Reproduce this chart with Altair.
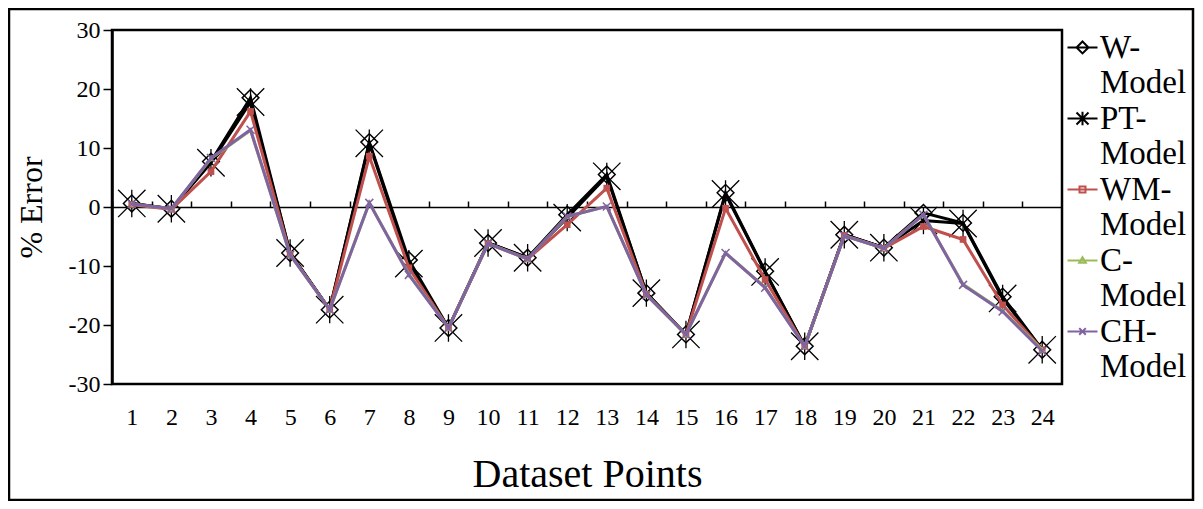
import altair as alt
import pandas as pd

points = list(range(1, 25))
series_names = ["W-Model", "PT-Model", "WM-Model", "C-Model", "CH-Model"]
w_model = [0.6, -0.3, 7.7, 18.5, -7.8, -17.4, 11.0, -9.0, -20.5, -6.1, -8.6, -1.3,
           5.5, -14.6, -21.6, 2.4, -10.9, -23.6, -4.7, -6.9, -1.0, -2.7, -15.2, -24.2]
pt_model = [0.6, -0.3, 7.5, 17.8, -7.8, -17.4, 10.8, -9.6, -20.5, -6.1, -8.6, -1.8,
            5.2, -14.6, -21.6, 2.2, -11.0, -23.6, -4.7, -6.9, -2.3, -2.8, -15.5, -24.2]
wm_model = [0.4, -0.4, 6.0, 16.2, -8.0, -17.4, 8.6, -10.3, -20.5, -6.2, -8.8, -3.0,
            3.2, -14.8, -21.6, -0.2, -12.3, -23.6, -4.8, -7.0, -3.3, -5.5, -16.6, -24.2]
c_model = [0.5, -0.3, 8.2, 13.0, -8.1, -17.4, 0.7, -11.4, -20.5, -6.2, -8.8, -1.6,
           0.1, -14.9, -21.6, -7.8, -13.6, -23.6, -4.9, -7.0, -1.3, -13.1, -17.6, -24.2]
ch_model = [0.5, -0.3, 8.3, 13.1, -8.1, -17.4, 0.7, -11.5, -20.5, -6.2, -8.8, -1.6,
            0.1, -14.9, -21.6, -7.8, -13.7, -23.6, -4.9, -7.0, -1.3, -13.2, -17.7, -24.4]
y_ticks = [-30, -20, -10, 0, 10, 20, 30]

colors = ["#000000", "#000000", "#C0504D", "#9BBB59", "#8064A2"]
FONT = "Liberation Serif"

rows = []
for name, vals in zip(series_names, [w_model, pt_model, wm_model, c_model, ch_model]):
    for p, v in zip(points, vals):
        rows.append({"series": name, "point": p, "value": v})
df = pd.DataFrame(rows)

xscale = alt.Scale(domain=[0.5, 24.5], nice=False, zero=False)
yscale = alt.Scale(domain=[-30, 30], nice=False)

base = alt.Chart(df)

def xy(xaxis=None, yaxis=None):
    return dict(
        x=alt.X("point:Q", scale=xscale, axis=xaxis),
        y=alt.Y("value:Q", scale=yscale, axis=yaxis),
    )

label_axis = alt.Axis(values=points, format="d", domain=False, ticks=False, tickSize=0,
                      grid=False, labelFont=FONT, labelFontSize=24, labelPadding=21,
                      labelColor="black", title="Dataset Points", titleFont=FONT,
                      titleFontSize=40, titleFontWeight="normal", titleColor="black",
                      titlePadding=25)
y_axis = alt.Axis(values=y_ticks,
                  labelExpr="datum.value < 0 ? '-' + abs(datum.value) : '' + datum.value",
                  domain=True, domainColor="black", domainWidth=2.5,
                  ticks=True, tickColor="black", tickSize=9, tickWidth=1.5, grid=False,
                  labelFont=FONT, labelFontSize=24, labelPadding=3, labelColor="black",
                  title="% Error", titleFont=FONT, titleFontSize=32,
                  titleFontWeight="normal", titleColor="black", titlePadding=20)
zero_axis = alt.Axis(values=[p - 0.5 for p in points], labels=False, domain=True,
                     domainColor="black", domainWidth=1.5, ticks=True, tickColor="black",
                     tickSize=6, tickWidth=1.5, grid=False, offset=-177, title=None)

def filt(name):
    return base.transform_filter(alt.datum.series == name)

line_w = filt("W-Model").mark_line(color="black", strokeWidth=3).encode(**xy(label_axis, y_axis))
pts_w = filt("W-Model").mark_point(shape="diamond", filled=False, color="black",
                                   strokeWidth=1.5, size=280, opacity=1).encode(**xy())
line_pt = filt("PT-Model").mark_line(color="black", strokeWidth=3).encode(**xy())
pts_pt = filt("PT-Model").mark_point(shape="M-1,-1L1,1M-1,1L1,-1M0,-1L0,1", filled=False,
                                     color="black", strokeWidth=1.3, size=750,
                                     opacity=1).encode(**xy())
line_wm = filt("WM-Model").mark_line(color=colors[2], strokeWidth=3).encode(**xy())
pts_wm = filt("WM-Model").mark_point(shape="square", filled=True, color=colors[2],
                                     size=45, opacity=1).encode(**xy())
line_c = filt("C-Model").mark_line(color=colors[3], strokeWidth=3).encode(**xy())
pts_c = filt("C-Model").mark_point(shape="triangle-up", filled=True, color=colors[3],
                                   size=40, opacity=1).encode(**xy())
line_ch = filt("CH-Model").mark_line(color=colors[4], strokeWidth=3).encode(**xy())
pts_ch = filt("CH-Model").mark_point(shape="M-1,-1L1,1M-1,1L1,-1", filled=False,
                                     color=colors[4], strokeWidth=1.5, size=64,
                                     opacity=1).encode(**xy())

s = -0.67
def L(extra):
    return f"M-1,{s}L1,{s}" + extra
legend_paths = [
    L(f"M0,{s-0.4}L0.4,{s}L0,{s+0.4}L-0.4,{s}Z"),
    L(f"M-0.4,{s-0.4}L0.4,{s+0.4}M-0.4,{s+0.4}L0.4,{s-0.4}M0,{s-0.45}L0,{s+0.45}"),
    L(f"M-0.2,{s-0.2}H0.2V{s+0.2}H-0.2Z"),
    L(f"M-0.22,{s+0.15}L0,{s-0.22}L0.22,{s+0.15}Z"),
    L(f"M-0.22,{s-0.22}L0.22,{s+0.22}M-0.22,{s+0.22}L0.22,{s-0.22}"),
]

def make_legend():
    return alt.Legend(
        title=None, orient="none", legendX=954, legendY=11,
        labelExpr="[split(datum.label, '-')[0] + '-', 'Model']",
        labelFont=FONT, labelFontSize=33,
        labelLimit=300, labelColor="black", labelBaseline="alphabetic",
        symbolSize=900, symbolStrokeWidth=2, symbolOpacity=1,
        rowPadding=2, labelOffset=1, padding=0)

legend_layer = base.mark_point(opacity=0, filled=False).encode(
    x=alt.X("point:Q", scale=xscale, axis=zero_axis),
    y=alt.Y("value:Q", scale=yscale, axis=None),
    color=alt.Color("series:N", scale=alt.Scale(domain=series_names, range=colors),
                    legend=make_legend()),
    shape=alt.Shape("series:N", scale=alt.Scale(domain=series_names, range=legend_paths),
                    legend=make_legend()),
)

frame = alt.Chart(pd.DataFrame({"k": [0]})).mark_rect(
    fillOpacity=0, stroke="black", strokeWidth=2.5
).encode(x=alt.value(-103), x2=alt.value(1081), y=alt.value(-21), y2=alt.value(470))

chart = alt.layer(
    frame, line_w, pts_w, line_pt, pts_pt, line_wm, pts_wm, line_c, pts_c,
    line_ch, pts_ch, legend_layer
).resolve_axis(x="independent", y="independent").properties(
    width=950, height=354,
    padding={"left": 104, "top": 22, "right": 133, "bottom": 117},
    autosize=alt.AutoSizeParams(type="none"),
    background="white",
).configure_view(stroke="black", strokeWidth=2.5)

chart.save("out.html", embed_options={"renderer": "svg", "actions": False})
